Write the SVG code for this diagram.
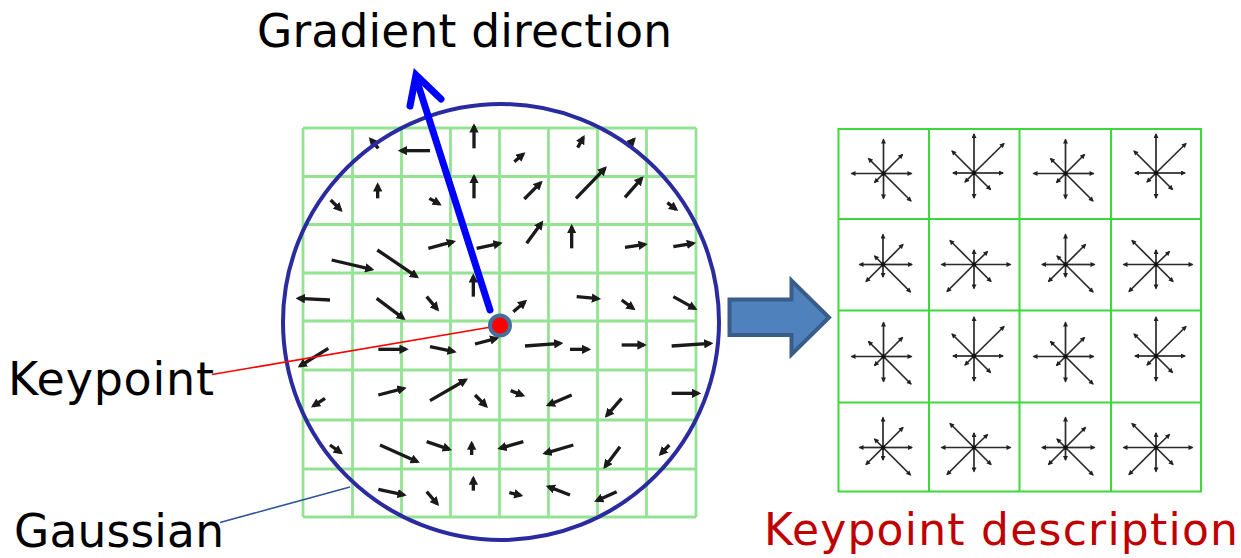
<svg xmlns="http://www.w3.org/2000/svg" width="1241" height="558" viewBox="0 0 1241 558">
<style>
.lbl{font-family:"DejaVu Sans","Verdana",sans-serif;fill:#000}
.red{fill:#C00000}
.grid{stroke:#93E393;stroke-width:2.8;fill:none}
.dgrid{stroke:#3CD83C;stroke-width:2;fill:none}
.ga{stroke:#1A1A1A;stroke-width:10;fill:none;marker-end:url(#gh)}
.st{stroke:#2A2A2A;stroke-width:1.7;marker-end:url(#sh)}
</style>
<defs>
<marker id="gh" viewBox="0 0 10 10" refX="7" refY="5" markerWidth="2.8" markerHeight="2.8" orient="auto" markerUnits="strokeWidth"><path d="M0,0 L10,5 L0,10 z" fill="#1A1A1A"/></marker>
<marker id="sh" viewBox="0 0 10 10" refX="8" refY="5" markerWidth="6" markerHeight="5" orient="auto" markerUnits="userSpaceOnUse"><path d="M0,0 L10,5 L0,10 z" fill="#222"/></marker>
<g id="starA"><line class="st" x1="0" y1="0" x2="0" y2="-34"/><line class="st" x1="0" y1="0" x2="0" y2="25"/><line class="st" x1="0" y1="0" x2="-32" y2="0"/><line class="st" x1="0" y1="0" x2="28" y2="0"/><line class="st" x1="0" y1="0" x2="-15" y2="-15"/><line class="st" x1="0" y1="0" x2="19" y2="-19"/><line class="st" x1="0" y1="0" x2="-9" y2="9"/><line class="st" x1="0" y1="0" x2="27.5" y2="27.5"/><circle r="2.2" fill="#111"/></g>
<g id="starB"><line class="st" x1="0" y1="0" x2="0" y2="-39"/><line class="st" x1="0" y1="0" x2="0" y2="25"/><line class="st" x1="0" y1="0" x2="-21" y2="0"/><line class="st" x1="0" y1="0" x2="29" y2="0"/><line class="st" x1="0" y1="0" x2="-22" y2="-22"/><line class="st" x1="0" y1="0" x2="30" y2="-29.5"/><line class="st" x1="0" y1="0" x2="-9" y2="9"/><line class="st" x1="0" y1="0" x2="16.5" y2="16.5"/><circle r="2.2" fill="#111"/></g>
<g id="starC"><line class="st" x1="0" y1="0" x2="0" y2="-30"/><line class="st" x1="0" y1="0" x2="0" y2="12.5"/><line class="st" x1="0" y1="0" x2="-23.5" y2="0"/><line class="st" x1="0" y1="0" x2="29" y2="0"/><line class="st" x1="0" y1="0" x2="-8.5" y2="-8.5"/><line class="st" x1="0" y1="0" x2="20" y2="-20"/><line class="st" x1="0" y1="0" x2="-17" y2="17"/><line class="st" x1="0" y1="0" x2="27.5" y2="27.5"/><circle r="2.2" fill="#111"/></g>
<g id="starD"><line class="st" x1="0" y1="0" x2="0" y2="-14.5"/><line class="st" x1="0" y1="0" x2="0" y2="24"/><line class="st" x1="0" y1="0" x2="-32.5" y2="0"/><line class="st" x1="0" y1="0" x2="36.5" y2="0"/><line class="st" x1="0" y1="0" x2="-24" y2="-24"/><line class="st" x1="0" y1="0" x2="13.5" y2="-13"/><line class="st" x1="0" y1="0" x2="-27" y2="27"/><line class="st" x1="0" y1="0" x2="17" y2="17"/><circle r="2.2" fill="#111"/></g>
</defs>
<rect width="1241" height="558" fill="#fff"/>

<g id="gaussian-window">
<g class="grid">
<line x1="303" y1="128" x2="303" y2="517"/><line x1="352.5" y1="128" x2="352.5" y2="517"/><line x1="401.5" y1="128" x2="401.5" y2="517"/><line x1="450.5" y1="128" x2="450.5" y2="517"/><line x1="499.5" y1="128" x2="499.5" y2="517"/><line x1="548.5" y1="128" x2="548.5" y2="517"/><line x1="597.5" y1="128" x2="597.5" y2="517"/><line x1="646.5" y1="128" x2="646.5" y2="517"/><line x1="696" y1="128" x2="696" y2="517"/>
<line x1="303" y1="128" x2="696" y2="128"/><line x1="303" y1="176.5" x2="696" y2="176.5"/><line x1="303" y1="224.5" x2="696" y2="224.5"/><line x1="303" y1="273" x2="696" y2="273"/><line x1="303" y1="321" x2="696" y2="321"/><line x1="303" y1="370" x2="696" y2="370"/><line x1="303" y1="420" x2="696" y2="420"/><line x1="303" y1="469" x2="696" y2="469"/><line x1="303" y1="517" x2="696" y2="517"/>
</g>
<g transform="translate(280 80) scale(0.33333)">
<line class="ga" x1="295" y1="205" x2="272" y2="178"/>
<line class="ga" x1="450" y1="212" x2="362" y2="212"/>
<line class="ga" x1="582" y1="205" x2="582" y2="138"/>
<line class="ga" x1="703" y1="245" x2="730" y2="222"/>
<line class="ga" x1="893" y1="203" x2="910" y2="172"/>
<line class="ga" x1="1042" y1="200" x2="1062" y2="178"/>
<line class="ga" x1="152" y1="360" x2="182" y2="390"/>
<line class="ga" x1="293" y1="355" x2="293" y2="315"/>
<line class="ga" x1="448" y1="355" x2="478" y2="372"/>
<line class="ga" x1="582" y1="355" x2="582" y2="290"/>
<line class="ga" x1="733" y1="357" x2="782" y2="308"/>
<line class="ga" x1="888" y1="355" x2="975" y2="265"/>
<line class="ga" x1="1035" y1="352" x2="1085" y2="295"/>
<line class="ga" x1="1162" y1="368" x2="1188" y2="388"/>
<line class="ga" x1="155" y1="540" x2="275" y2="568"/>
<line class="ga" x1="292" y1="510" x2="410" y2="590"/>
<line class="ga" x1="445" y1="505" x2="520" y2="485"/>
<line class="ga" x1="590" y1="505" x2="660" y2="490"/>
<line class="ga" x1="740" y1="490" x2="785" y2="428"/>
<line class="ga" x1="875" y1="505" x2="875" y2="440"/>
<line class="ga" x1="1035" y1="502" x2="1095" y2="493"/>
<line class="ga" x1="1180" y1="500" x2="1240" y2="490"/>
<line class="ga" x1="150" y1="660" x2="55" y2="655"/>
<line class="ga" x1="290" y1="655" x2="370" y2="715"/>
<line class="ga" x1="440" y1="650" x2="472" y2="688"/>
<line class="ga" x1="580" y1="650" x2="580" y2="588"/>
<line class="ga" x1="700" y1="695" x2="735" y2="665"/>
<line class="ga" x1="890" y1="650" x2="955" y2="656"/>
<line class="ga" x1="1025" y1="660" x2="1060" y2="686"/>
<line class="ga" x1="1180" y1="650" x2="1245" y2="686"/>
<line class="ga" x1="145" y1="805" x2="60" y2="858"/>
<line class="ga" x1="295" y1="808" x2="378" y2="808"/>
<line class="ga" x1="450" y1="800" x2="522" y2="815"/>
<line class="ga" x1="585" y1="792" x2="650" y2="775"/>
<line class="ga" x1="735" y1="798" x2="842" y2="790"/>
<line class="ga" x1="870" y1="808" x2="925" y2="808"/>
<line class="ga" x1="1025" y1="795" x2="1092" y2="795"/>
<line class="ga" x1="1175" y1="798" x2="1292" y2="790"/>
<line class="ga" x1="135" y1="955" x2="100" y2="978"/>
<line class="ga" x1="295" y1="945" x2="372" y2="925"/>
<line class="ga" x1="450" y1="962" x2="557" y2="900"/>
<line class="ga" x1="585" y1="945" x2="618" y2="978"/>
<line class="ga" x1="692" y1="932" x2="728" y2="946"/>
<line class="ga" x1="875" y1="945" x2="805" y2="975"/>
<line class="ga" x1="1025" y1="955" x2="980" y2="1007"/>
<line class="ga" x1="1175" y1="940" x2="1255" y2="940"/>
<line class="ga" x1="150" y1="1095" x2="182" y2="1118"/>
<line class="ga" x1="300" y1="1095" x2="412" y2="1145"/>
<line class="ga" x1="440" y1="1085" x2="508" y2="1108"/>
<line class="ga" x1="575" y1="1125" x2="575" y2="1090"/>
<line class="ga" x1="730" y1="1085" x2="660" y2="1105"/>
<line class="ga" x1="880" y1="1095" x2="795" y2="1120"/>
<line class="ga" x1="1020" y1="1100" x2="975" y2="1160"/>
<line class="ga" x1="1168" y1="1095" x2="1142" y2="1122"/>
<line class="ga" x1="295" y1="1228" x2="372" y2="1245"/>
<line class="ga" x1="440" y1="1235" x2="472" y2="1272"/>
<line class="ga" x1="580" y1="1232" x2="580" y2="1195"/>
<line class="ga" x1="688" y1="1238" x2="722" y2="1246"/>
<line class="ga" x1="870" y1="1245" x2="805" y2="1220"/>
<line class="ga" x1="1010" y1="1235" x2="950" y2="1262"/>
</g>
<circle cx="501" cy="322" r="218" fill="none" stroke="#2B2BA0" stroke-width="4"/>
</g>

<g id="descriptor">
<g class="dgrid">
<rect x="838.5" y="129" width="362.5" height="362.5"/>
<line x1="929" y1="129" x2="929" y2="491.5"/><line x1="1019.5" y1="129" x2="1019.5" y2="491.5"/><line x1="1111" y1="129" x2="1111" y2="491.5"/>
<line x1="838.5" y1="219" x2="1201" y2="219"/><line x1="838.5" y1="310.5" x2="1201" y2="310.5"/><line x1="838.5" y1="402.5" x2="1201" y2="402.5"/>
</g>
<use href="#starA" x="883.5" y="173.5"/><use href="#starB" x="974" y="173"/><use href="#starA" x="1065.5" y="173.5"/><use href="#starB" x="1156" y="173"/>
<use href="#starC" x="883" y="264.5"/><use href="#starD" x="974" y="264.5"/><use href="#starC" x="1065.5" y="264.5"/><use href="#starD" x="1156" y="264.5"/>
<use href="#starA" x="883.5" y="356.5"/><use href="#starB" x="974" y="356"/><use href="#starA" x="1065.5" y="356.5"/><use href="#starB" x="1156" y="356"/>
<use href="#starC" x="883" y="447.5"/><use href="#starD" x="974" y="447.5"/><use href="#starC" x="1065.5" y="447.5"/><use href="#starD" x="1156" y="447.5"/>
</g>

<g id="connectors">
<path id="block-arrow" d="M729.5,299.5 H791.5 V280.5 L829,317.5 L791.5,354.5 V335 H729.5 Z" fill="#4F81BD" stroke="#385D8A" stroke-width="4" stroke-linejoin="miter"/>
<line x1="490" y1="310" x2="416" y2="78" stroke="#0000FF" stroke-width="7" stroke-linecap="round"/>
<polyline points="410,106 416,75 441,99" fill="none" stroke="#0000FF" stroke-width="7" stroke-linecap="round" stroke-linejoin="miter"/>
<line x1="212" y1="374.5" x2="500" y2="325.5" stroke="#FF0000" stroke-width="1.6"/>
<line x1="220" y1="522.5" x2="350" y2="487" stroke="#2F5597" stroke-width="1.6"/>
</g>

<g id="keypoint">
<circle cx="500" cy="325.5" r="10" fill="#FF0000" stroke="#41719C" stroke-width="4"/>
</g>

<g id="labels">
<text class="lbl" x="257" y="47" font-size="45.5" textLength="415">Gradient direction</text>
<text class="lbl" x="8" y="395" font-size="46" textLength="206">Keypoint</text>
<text class="lbl" x="14" y="547" font-size="45.5" textLength="210">Gaussian</text>
<text class="lbl red" x="764" y="545" font-size="44" textLength="474">Keypoint description</text>
</g>
</svg>
